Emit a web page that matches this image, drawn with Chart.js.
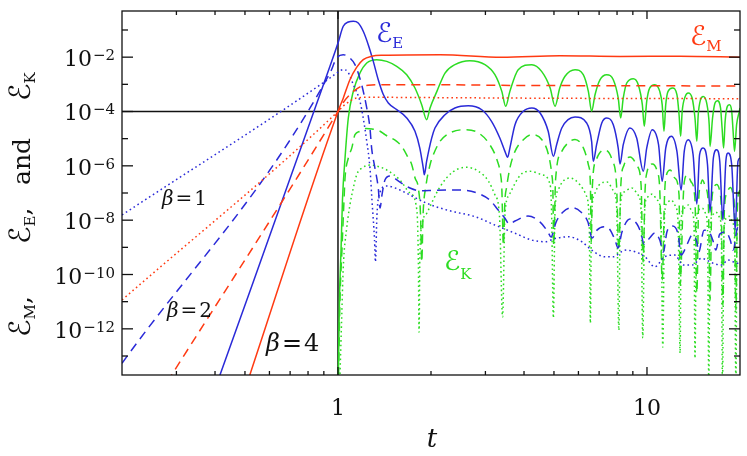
<!DOCTYPE html>
<html>
<head>
<meta charset="utf-8">
<script src="https://cdn.jsdelivr.net/npm/chart.js@4.4.1/dist/chart.umd.min.js"></script>
<style>
  html, body { margin: 0; padding: 0; background: #fff; }
  #wrap { width: 747px; height: 456px; }
</style>
</head>
<body>
<div id="wrap"><canvas id="chart" width="747" height="456"></canvas></div>
<script>
// Energies vs time t as [t, E] pairs.
// M = magnetic, E = electric, K = kinetic; suffix = beta (4 solid, 2 dashed, 1 dotted)
const EM4 = [[0.5,5.8e-15],[1,1e-4],[1.04,3.1e-4],[1.093,1.48e-3],[1.149,4.2e-3],[1.207,8.1e-3],[1.285,1.08e-2],
  [1.402,1.17e-2],[2.14,1.23e-2],[3.39,9.9e-3],[5.22,1.13e-2],[8.18,1.06e-2],[12.8,1.08e-2],[20,1.0e-2]];
const EM2 = [[0.28,1.1e-14],[1,1e-4],[1.038,2.06e-4],[1.093,4.15e-4],[1.178,8.1e-4],[1.253,9.2e-4],[1.368,9.7e-4],
  [2.14,9.7e-4],[3.34,9.2e-4],[7.05,8.9e-4],[20,8.7e-4]];
const EM1 = [[0.2,1.15e-11],[1,1e-4],[1.038,1.55e-4],[1.067,2.0e-4],[1.149,3.14e-4],[1.269,3.33e-4],[2.14,3.23e-4],
  [5.22,3.06e-4],[20,2.96e-4]];

const EE4 = [[0.4,6.2e-15],[0.942,4.6e-3],[1.0,3.3e-2],[1.04,0.137],[1.08,0.197],[1.121,0.209],[1.163,0.181],[1.207,0.0897],
  [1.253,0.0288],[1.301,7.0e-3],[1.35,1.48e-3],[1.402,4.2e-4],[1.455,2.06e-4],[1.549,1.17e-4],[1.669,5.8e-5],[1.775,1.86e-5],
  [1.84,4.5e-6],[1.888,8.3e-7],[1.903,4.7e-7],[1.936,1.48e-6],[2.01,1.05e-5],[2.06,2.47e-5],[2.22,7.6e-5],[2.39,1.35e-4],
  [2.64,1.63e-4],[2.92,1.16e-4],[3.14,4.35e-5],[3.34,1.06e-5],[3.47,3.4e-6],[3.54,2.06e-6],[3.60,4.5e-6],[3.74,3.27e-5],
  [3.98,1.02e-4],[4.24,1.35e-4],[4.51,8.8e-5],[4.79,1.87e-5],[4.98,2.24e-6],[5.10,6.0e-6],[5.30,2.47e-5],[5.85,6.3e-5],
  [6.38,3.77e-5],[6.62,8.0e-6],[6.70,1.47e-6],[6.87,6.0e-6],[7.14,3.77e-5],[7.41,5.75e-5],[7.78,3.27e-5],[8.07,4.5e-6],
  [8.18,1.17e-6],[8.38,6.0e-6],[8.81,2.47e-5],[9.26,1.06e-5],[9.73,6.3e-7],[9.98,4.5e-6],[10.4,2.14e-5],[10.9,6.0e-6],
  [11.2,2.7e-7],[11.5,4.5e-6],[12.0,1.22e-5],[12.5,3.4e-6],[12.9,1.29e-7],[13.2,3.4e-6],[13.6,9.1e-6],[14.1,2.57e-6],
  [14.5,3.9e-8],[14.8,2.57e-6],[15.2,4.5e-6],[15.7,1.1e-6],[16.0,2.0e-8],[16.4,1.94e-6],[16.8,3.9e-6],[17.2,1.47e-6],
  [17.6,1e-8],[18.0,1.47e-6],[18.3,2.96e-6],[18.8,1.1e-6],[19.3,4.4e-9],[19.7,1.47e-6],[20,1.94e-6]];
const EE2 = [[0.2,5.4e-14],[0.942,2.6e-3],[0.99,9.3e-3],[1.04,1.23e-2],[1.093,9.3e-3],[1.135,5.3e-3],[1.193,9.7e-4],
  [1.239,1.35e-4],[1.269,2.47e-5],[1.285,4.5e-6],[1.317,8.3e-7],[1.35,1.52e-7],[1.368,2.8e-8],[1.388,8.5e-8],[1.419,3.0e-7],
  [1.472,4.2e-7],[1.587,2.5e-7],[1.71,1.52e-7],[1.84,1.21e-7],[2.06,1.26e-7],[2.51,1.29e-7],[2.84,9.7e-8],[3.10,5.5e-8],
  [3.30,2.36e-8],[3.47,1.17e-8],[3.58,7.2e-9],[3.74,9.3e-9],[4.12,1.42e-8],[4.51,8.5e-9],[4.78,3.7e-9],[4.89,2.4e-9],
  [5.08,8.5e-9],[5.35,2.0e-8],[5.72,2.87e-8],[6.11,2.0e-8],[6.44,8.5e-9],[6.64,2.2e-9],[6.89,4.3e-9],[7.26,5.7e-9],
  [7.53,5.0e-9],[7.88,1.86e-9],[8.06,9.4e-10],[8.30,3.7e-9],[8.81,1.1e-8],[9.28,7.2e-9],[9.56,3.4e-9],[9.78,1.32e-9],
  [10.2,2.2e-9],[10.6,3.4e-9],[11.0,1.86e-9],[11.3,6.7e-10],[11.6,3.7e-9],[12.1,6.1e-9],[12.6,3.1e-9],[12.9,5.2e-10],
  [13.5,1.32e-9],[14.0,2.84e-9],[14.5,1.57e-9],[14.7,6.7e-10],[15.3,4.3e-9],[15.9,3.7e-9],[16.4,1.57e-9],[16.7,7.9e-10],
  [17.2,3.1e-9],[18.0,3.7e-9],[18.6,1.86e-9],[19.0,7.9e-10],[19.6,5.0e-9],[20,6.3e-9]];
const EE1 = [[0.2,1.55e-8],[0.942,1.71e-3],[0.99,2.6e-3],[1.04,3.46e-3],[1.077,2.85e-3],[1.121,9.7e-4],[1.178,2.37e-4],
  [1.207,5.75e-5],[1.239,8.0e-6],[1.269,8.3e-7],[1.288,5.5e-8],[1.313,1.86e-9],[1.322,2.9e-10],[1.337,1.55e-8],[1.368,1.09e-7],
  [1.438,1.81e-7],[1.587,1.29e-7],[1.669,9.7e-8],[1.936,4.2e-8],[2.25,2.36e-8],[2.39,2.0e-8],[2.78,1.34e-8],[3.22,6.6e-9],
  [3.74,3.3e-9],[4.24,1.85e-9],[4.68,1.61e-9],[5.04,2.1e-9],[5.56,2.45e-9],[6.15,1.61e-9],[6.62,7.9e-10],[7.31,4.5e-10],
  [7.78,4.5e-10],[8.49,7.9e-10],[9.15,6.9e-10],[9.85,4.5e-10],[10.6,1.93e-10],[11.4,4.5e-10],[12.3,5.2e-10],[13.1,2.23e-10],
  [14.0,2.23e-10],[15.0,3.9e-10],[16.4,2.57e-10],[17.4,2.23e-10],[18.3,3.4e-10],[19.7,2.57e-10],[20,2.7e-10]];

const EK4 = [[1.001,5e-15],[1.011,1.15e-11],[1.023,7.9e-10],[1.034,5.5e-8],[1.054,1.94e-6],[1.08,5.75e-5],[1.121,5.5e-4],
  [1.178,2.6e-3],[1.239,6.1e-3],[1.334,8.1e-3],[1.438,7.0e-3],[1.549,4.6e-3],[1.669,2.26e-3],[1.775,7.3e-4],[1.866,1.78e-4],
  [1.936,5.0e-5],[1.986,1.35e-4],[2.09,5.5e-4],[2.22,2.6e-3],[2.39,5.3e-3],[2.67,7.4e-3],[2.99,5.3e-3],[3.22,2.26e-3],
  [3.39,5.5e-4],[3.49,1.55e-4],[3.60,5.5e-4],[3.83,3.46e-3],[4.24,5.3e-3],[4.56,3.0e-3],[4.86,7.3e-4],[5.04,1.55e-4],
  [5.22,7.3e-4],[5.43,1.98e-3],[5.85,3.46e-3],[6.22,2.26e-3],[6.46,5.5e-4],[6.62,1.02e-4],[6.79,4.15e-4],[7.05,1.48e-3],
  [7.41,2.26e-3],[7.78,1.48e-3],[8.07,3.14e-4],[8.22,5.75e-5],[8.38,3.14e-4],[8.60,1.12e-3],[9.03,1.61e-3],[9.37,9.7e-4],
  [9.66,1.78e-4],[9.80,2.85e-5],[9.98,2.37e-4],[10.2,7.3e-4],[10.6,9.7e-4],[11.0,5.5e-4],[11.2,1.78e-4],[11.35,1.86e-5],
  [11.5,1.78e-4],[11.7,5.5e-4],[12.1,7.3e-4],[12.5,4.15e-4],[12.7,7.6e-5],[12.85,1.22e-5],[13.0,1.02e-4],[13.3,3.6e-4],
  [13.6,4.8e-4],[14.0,3.14e-4],[14.3,5.75e-5],[14.5,8.0e-6],[14.65,7.6e-5],[14.9,2.7e-4],[15.2,3.6e-4],[15.6,2.06e-4],
  [15.9,3.27e-5],[16.0,5.2e-6],[16.3,5.75e-5],[16.6,2.06e-4],[16.9,2.5e-4],[17.3,1.35e-4],[17.5,2.47e-5],[17.7,4.5e-6],
  [17.9,4.35e-5],[18.2,1.55e-4],[18.5,1.78e-4],[18.8,1.02e-4],[19.0,1.86e-5],[19.2,3.4e-6],[19.5,3.27e-5],[19.9,1.02e-4],
  [20,1.35e-4]];
const EK2 = [[1.002,5e-15],[1.015,1.15e-11],[1.030,8.0e-10],[1.046,5.5e-8],[1.054,3.56e-7],[1.080,1.94e-6],[1.108,4.5e-6],
  [1.135,1.4e-5],[1.178,1.87e-5],[1.232,2.37e-5],[1.289,2.28e-5],[1.368,1.87e-5],[1.419,1.4e-5],[1.549,8.0e-6],[1.608,5.2e-6],
  [1.689,1.94e-6],[1.733,1.1e-6],[1.776,3.56e-7],[1.82,1.53e-7],[1.85,1.54e-8],[1.867,2.9e-10],[1.885,1.54e-8],[1.928,1.97e-7],
  [1.986,1.1e-6],[2.035,2.56e-6],[2.14,8.0e-6],[2.30,1.62e-5],[2.58,2.14e-5],[2.85,1.62e-5],[3.10,6.0e-6],[3.27,1.67e-6],
  [3.36,4.7e-7],[3.39,1.53e-7],[3.43,1.2e-9],[3.47,5.5e-8],[3.51,1.53e-7],[3.60,8.3e-7],[3.74,3.4e-6],[3.98,9.1e-6],
  [4.24,1.4e-5],[4.57,9.1e-6],[4.80,2.56e-6],[4.92,4.7e-7],[4.96,1.29e-7],[4.99,1.2e-9],[5.06,3.0e-7],[5.30,3.4e-6],
  [5.64,8.0e-6],[5.85,9.3e-6],[6.23,4.5e-6],[6.46,1.1e-6],[6.56,1.97e-7],[6.60,1.57e-9],[6.66,1.97e-7],[6.85,1.63e-6],
  [7.27,3.8e-6],[7.71,1.63e-6],[7.97,1.97e-7],[8.11,8.0e-10],[8.23,1.97e-7],[8.43,1.07e-6],[8.82,2.1e-6],[9.29,1.0e-6],
  [9.57,1.97e-7],[9.71,2.9e-10],[9.86,1.29e-7],[10.0,5.9e-7],[10.4,1.17e-6],[10.8,5.9e-7],[11.0,1.29e-7],[11.2,6.2e-11],
  [11.4,8.4e-8],[11.5,3.56e-7],[11.9,7.0e-7],[12.3,3.56e-7],[12.7,8.4e-8],[12.8,4.1e-11],[13.1,6.5e-8],[13.2,2.54e-7],
  [13.5,4.6e-7],[13.9,2.54e-7],[14.3,5.5e-8],[14.5,2.06e-11],[14.7,5.5e-8],[14.9,1.81e-7],[15.1,3.0e-7],[15.5,1.53e-7],
  [15.8,3.6e-8],[16.0,1.15e-11],[16.2,3.6e-8],[16.4,1.29e-7],[16.8,2.05e-7],[17.2,1.09e-7],[17.4,2.35e-8],[17.6,7.6e-12],
  [17.8,2.35e-8],[18.1,9.1e-8],[18.6,1.6e-7],[19.0,8.4e-8],[19.2,2.0e-8],[19.4,4.9e-12],[19.6,2.0e-8],[19.7,7.1e-8],
  [20,1.29e-7]];
const EK1 = [[1.013,1e-14],[1.028,2.5e-12],[1.040,1.74e-10],[1.067,5.1e-9],[1.093,3.6e-8],[1.121,1.53e-7],[1.152,5.0e-7],
  [1.196,8.3e-7],[1.269,1.07e-6],[1.368,9.0e-7],[1.44,7.0e-7],[1.587,3.0e-7],[1.71,1.0e-7],[1.80,2.35e-8],[1.82,3.4e-10],
  [1.83,7.6e-13],[1.84,3.4e-10],[1.87,6.6e-9],[1.94,1.83e-8],[2.14,1.7e-7],[2.36,6.1e-7],[2.61,8.8e-7],[2.85,6.3e-7],
  [3.07,2.7e-7],[3.22,8.6e-8],[3.33,1.54e-8],[3.41,2.7e-12],[3.47,1.54e-8],[3.58,8.4e-8],[3.90,4.7e-7],[4.18,6.3e-7],
  [4.57,4.7e-7],[4.86,2.0e-7],[4.91,2.35e-8],[4.98,2.5e-12],[5.04,2.35e-8],[5.16,1.29e-7],[5.32,2.54e-7],[5.64,3.56e-7],
  [6.07,2.0e-7],[6.35,8.4e-8],[6.50,1.0e-8],[6.56,1.63e-12],[6.61,1.0e-8],[6.75,8.4e-8],[7.05,2.14e-7],[7.43,2.54e-7],
  [7.76,1.29e-7],[7.97,3.6e-8],[8.11,9.0e-13],[8.2,3.6e-8],[8.43,1.09e-7],[8.93,1.53e-7],[9.36,8.4e-8],[9.57,2.35e-8],
  [9.69,4.6e-13],[9.83,2.35e-8],[10.0,6.5e-8],[10.4,9.1e-8],[10.8,5.5e-8],[11.1,1.54e-8],[11.25,2.14e-13],[11.4,1.54e-8],
  [11.6,4.2e-8],[12.0,5.5e-8],[12.3,3.6e-8],[12.6,1.0e-8],[12.8,1.29e-13],[12.9,1.0e-8],[13.2,2.77e-8],[13.6,3.6e-8],
  [14.0,2.0e-8],[14.2,6.6e-9],[14.3,8.4e-14],[14.45,6.6e-9],[14.6,2.0e-8],[15.1,2.77e-8],[15.5,1.67e-8],[15.7,4.3e-9],
  [15.85,1e-14],[16.0,4.3e-9],[16.3,1.54e-8],[16.7,2.0e-8],[17.2,1.2e-8],[17.4,3.65e-9],[17.55,1e-14],[17.75,3.65e-9],
  [18.1,1.2e-8],[18.5,1.4e-8],[18.9,8.5e-9],[19.2,2.6e-9],[19.4,1e-14],[19.55,2.6e-9],[19.85,8.5e-9],[20,1.1e-8]];

// reference lines: E = 1e-4 and t = 1
const refLevel = 1e-4;
const refTime = 1;

// axes
const xRange = [0.2, 20];
const yRange = [2e-14, 0.5];
const xLabelTicks = [1, 10];
const xMinorTicks = [0.3, 0.4, 0.5, 0.6, 0.7, 0.8, 0.9, 2, 3, 4, 5, 6, 7, 8, 9];
const yLabelTicks = [1e-2, 1e-4, 1e-6, 1e-8, 1e-10, 1e-12];
const yLabelExps = ['\u22122', '\u22124', '\u22126', '\u22128', '\u221210', '\u221212'];
const yMinorTicks = [1e-1, 1e-3, 1e-5, 1e-7, 1e-9, 1e-11, 1e-13];

const RED = '#ff3a12';
const BLUE = '#2a2ad8';
const GREEN = '#2cdc22';
const INK = '#111';
const DASH = [9, 6];
const DOT = [1.6, 3];
const SERIF = '"DejaVu Serif", "DejaVu Sans", serif';
const SCRIPT_E = '\u2130';

function series(points, color, dash) {
  return {
    data: points.map(([t, e]) => ({ x: t, y: e })),
    borderColor: color,
    borderWidth: 1.5,
    borderDash: dash,
    pointRadius: 0,
    fill: false,
    cubicInterpolationMode: 'monotone',
    clip: 0
  };
}

function straight(points) {
  return {
    data: points,
    borderColor: INK,
    borderWidth: 1.5,
    pointRadius: 0,
    fill: false,
    tension: 0,
    clip: 0
  };
}

// draw a row of text pieces; each piece: [text, size, dy, gapAfter, italic]
function drawRuns(ctx, runs, x, y) {
  let cx = x;
  runs.forEach(([text, size, dy, gap, italic]) => {
    ctx.font = (italic ? 'italic ' : '') + size + 'px ' + SERIF;
    ctx.fillText(text, cx, y + (dy || 0));
    cx += ctx.measureText(text).width + (gap || 0);
  });
  return cx;
}

function runsWidth(ctx, runs) {
  let w = 0;
  runs.forEach(([text, size, dy, gap, italic]) => {
    ctx.font = (italic ? 'italic ' : '') + size + 'px ' + SERIF;
    w += ctx.measureText(text).width + (gap || 0);
  });
  return w;
}

// rotated piece of the y title, starting at screen height yStart
function drawUp(ctx, runs, xBase, yStart) {
  ctx.save();
  ctx.translate(xBase, yStart);
  ctx.rotate(-Math.PI / 2);
  drawRuns(ctx, runs, 0, 0);
  ctx.restore();
}

const frameAndText = {
  id: 'frameAndText',
  afterDraw(chart) {
    const { ctx, chartArea: a, scales: { x, y } } = chart;
    ctx.save();
    ctx.strokeStyle = INK;
    ctx.fillStyle = INK;
    ctx.lineWidth = 1.3;
    ctx.setLineDash([]);
    ctx.strokeRect(a.left, a.top, a.right - a.left, a.bottom - a.top);

    const seg = (x1, y1, x2, y2) => { ctx.beginPath(); ctx.moveTo(x1, y1); ctx.lineTo(x2, y2); ctx.stroke(); };
    xLabelTicks.forEach(v => { const p = x.getPixelForValue(v); seg(p, a.bottom, p, a.bottom - 8); seg(p, a.top, p, a.top + 8); });
    xMinorTicks.forEach(v => { const p = x.getPixelForValue(v); seg(p, a.bottom, p, a.bottom - 4); seg(p, a.top, p, a.top + 4); });
    yLabelTicks.forEach(v => { const p = y.getPixelForValue(v); seg(a.left, p, a.left + 11, p); seg(a.right, p, a.right - 11, p); });
    yMinorTicks.forEach(v => { const p = y.getPixelForValue(v); seg(a.left, p, a.left + 6, p); seg(a.right, p, a.right - 6, p); });

    // tick labels
    ctx.textBaseline = 'alphabetic';
    ctx.textAlign = 'left';
    yLabelTicks.forEach((v, i) => {
      const p = y.getPixelForValue(v);
      const runs = [['10', 22, 0, 1], [yLabelExps[i], 15, -6, 0]];
      const w = runsWidth(ctx, runs);
      drawRuns(ctx, runs, a.left - 7 - w, p + 9);
    });
    ctx.textAlign = 'center';
    ctx.font = '22px ' + SERIF;
    xLabelTicks.forEach(v => ctx.fillText(String(v), x.getPixelForValue(v), 415));

    // axis titles
    ctx.font = 'italic 26px ' + SERIF;
    ctx.fillText('t', 432, 447);
    ctx.textAlign = 'left';
    drawUp(ctx, [[SCRIPT_E, 29, 0, 0], ['M', 15, 5, 0], [',', 25, 0, 0]], 30, 337);
    drawUp(ctx, [[SCRIPT_E, 29, 0, 0], ['E', 15, 5, 0], [',', 25, 0, 0]], 30, 244);
    drawUp(ctx, [['and', 25, 0, 0]], 30, 185);
    drawUp(ctx, [[SCRIPT_E, 29, 0, 0], ['K', 15, 5, 0]], 30, 101);

    // curve labels
    ctx.fillStyle = BLUE;
    drawRuns(ctx, [[SCRIPT_E, 27, 0, 0], ['E', 15, 6, 0]], 376, 42);
    ctx.fillStyle = RED;
    drawRuns(ctx, [[SCRIPT_E, 27, 0, 0], ['M', 15, 6, 0]], 690, 45);
    ctx.fillStyle = GREEN;
    drawRuns(ctx, [[SCRIPT_E, 27, 0, 0], ['K', 15, 9, 0]], 444, 270);

    ctx.fillStyle = INK;
    drawRuns(ctx, [['\u03b2', 20, 0, 2, true], ['=', 20, 0, 2], ['1', 20, 0, 0]], 162, 205);
    drawRuns(ctx, [['\u03b2', 20, 0, 2, true], ['=', 20, 0, 2], ['2', 20, 0, 0]], 167, 317);
    drawRuns(ctx, [['\u03b2', 24, 0, 2, true], ['=', 24, 0, 2], ['4', 24, 0, 0]], 266, 351);
    ctx.restore();
  }
};

new Chart(document.getElementById('chart'), {
  type: 'line',
  data: {
    datasets: [
      series(EM4, RED, []), series(EM2, RED, DASH), series(EM1, RED, DOT),
      series(EE4, BLUE, []), series(EE2, BLUE, DASH), series(EE1, BLUE, DOT),
      series(EK4, GREEN, []), series(EK2, GREEN, DASH), series(EK1, GREEN, DOT),
      straight([{ x: xRange[0], y: refLevel }, { x: xRange[1], y: refLevel }]),
      straight([{ x: refTime, y: yRange[0] }, { x: refTime, y: yRange[1] }])
    ]
  },
  options: {
    responsive: false,
    animation: false,
    devicePixelRatio: 1,
    layout: { padding: { left: 122, right: 7, top: 11, bottom: 81 } },
    scales: {
      x: { type: 'logarithmic', min: xRange[0], max: xRange[1], display: false },
      y: { type: 'logarithmic', min: yRange[0], max: yRange[1], display: false }
    },
    plugins: { legend: { display: false }, tooltip: { enabled: false } }
  },
  plugins: [frameAndText]
});
</script>
</body>
</html>
